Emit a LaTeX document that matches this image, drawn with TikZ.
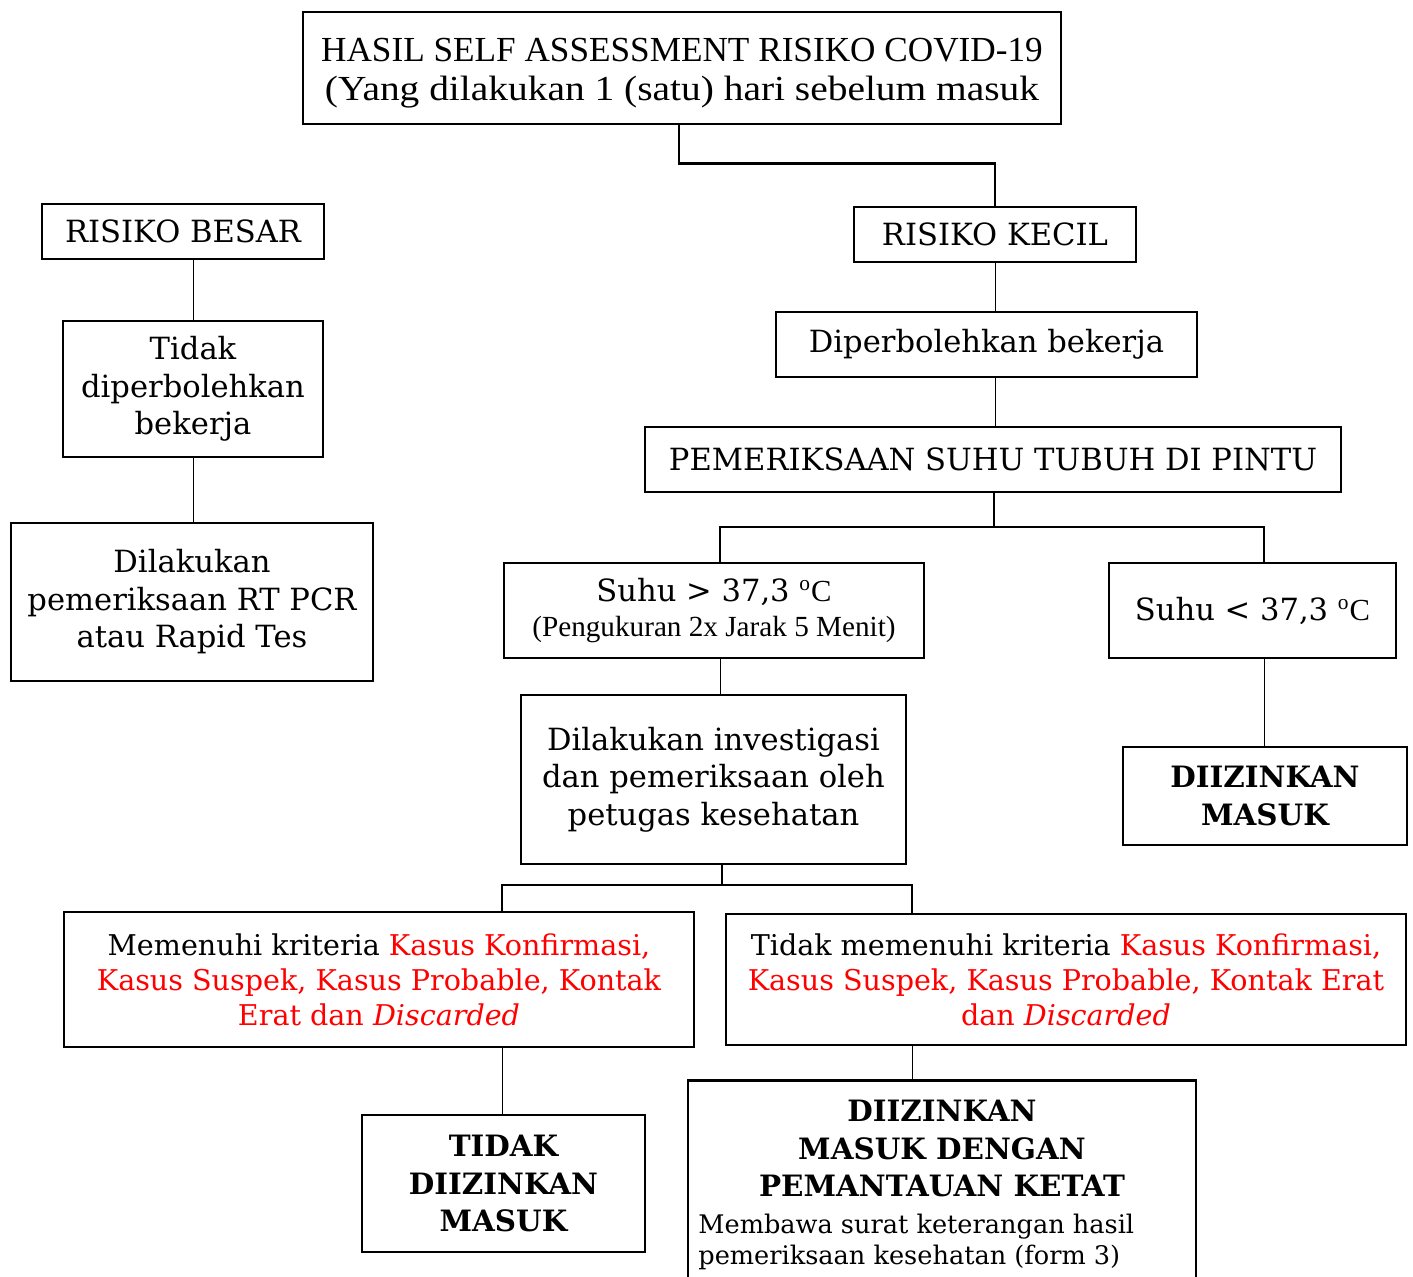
\documentclass[tikz,border=0pt]{standalone}
\usepackage{fontspec}
\usepackage{xcolor}
\usepackage{graphicx}
\setmainfont{DejaVu Serif}
\newfontfamily\tms{Liberation Serif}
\usetikzlibrary{calc}
\begin{document}
\begin{tikzpicture}[x=0.5pt,y=-0.5pt,
  box/.style={draw,line width=1.4pt,inner sep=0pt,align=center,font=\fontsize{15.3}{18.75}\selectfont},
  thickc/.style={line width=1.4pt},
  thinc/.style={line width=0.5pt},
  bld/.style={font=\fontsize{14.7}{18.75}\selectfont\bfseries,align=center}]
\useasboundingbox (0,0) rectangle (1413,1277);
\clip (0,0) rectangle (1413,1277);
% boxes
\node[box,minimum width=379pt,minimum height=56pt,font=\tms\fontsize{17.6}{19.5}\selectfont] (top) at (682,68)
  {\rule{0pt}{17pt}HASIL SELF ASSESSMENT RISIKO COVID-19\\\scalebox{1.12}[1]{(Yang dilakukan 1 (satu) hari sebelum masuk}};
\node[box,minimum width=141pt,minimum height=27.5pt] (rb) at (183,231.5) {RISIKO BESAR};
\node[box,minimum width=130pt,minimum height=68pt] (td) at (193,389) {Tidak\\diperbolehkan\\bekerja};
\node[box,minimum width=181pt,minimum height=79pt] (rt) at (192,602) {Dilakukan\\pemeriksaan RT PCR\\atau Rapid Tes};
\node[box,minimum width=141pt,minimum height=27.5pt] (rk) at (995,234.5) {RISIKO KECIL};
\node[box,minimum width=210.5pt,minimum height=32.5pt] (dp) at (986.5,344.5) {Diperbolehkan bekerja};
\node[box,minimum width=348pt,minimum height=32.5pt] (ps) at (993,459.5) {PEMERIKSAAN SUHU TUBUH DI PINTU};
\node[box,minimum width=210pt,minimum height=47.5pt] (s1) at (714,610.5)
  {Suhu > 37,3 {\tms\textsuperscript{o}C}\\[-1pt]{\tms\fontsize{14.6}{16}\selectfont (Pengukuran 2x Jarak 5 Menit)}};
\node[box,minimum width=143.5pt,minimum height=47.5pt] (s2) at (1252.5,610.5) {Suhu < 37,3 {\tms\textsuperscript{o}C}};
\node[box,minimum width=192.5pt,minimum height=84.5pt] (inv) at (713.5,779.5)
  {Dilakukan investigasi\\dan pemeriksaan oleh\\petugas kesehatan};
\node[box,minimum width=142pt,minimum height=49pt,font=\fontsize{14.7}{18.75}\selectfont\bfseries] (dm) at (1265,796) {DIIZINKAN\\MASUK};
\node[box,minimum width=315pt,minimum height=67.5pt,font=\fontsize{14.3}{17.5}\selectfont] (m1) at (379,979.5)
  {Memenuhi kriteria \textcolor{red}{Kasus Konfirmasi,}\\\textcolor{red}{Kasus Suspek, Kasus Probable, Kontak}\\\textcolor{red}{Erat dan \textit{Discarded}}};
\node[box,minimum width=340pt,minimum height=65.5pt,font=\fontsize{14.3}{17.5}\selectfont] (m2) at (1066,979.5)
  {Tidak memenuhi kriteria \textcolor{red}{Kasus Konfirmasi,}\\\textcolor{red}{Kasus Suspek, Kasus Probable, Kontak Erat}\\\textcolor{red}{dan \textit{Discarded}}};
\node[box,minimum width=141.5pt,minimum height=68.5pt,font=\fontsize{14.7}{18.75}\selectfont\bfseries] (tdm) at (503.5,1183.5) {TIDAK\\DIIZINKAN\\MASUK};
\node[box,anchor=north,minimum width=254pt,minimum height=120pt] (dd) at (942,1079) {};
\node[bld,anchor=north,inner sep=0pt] (ddt) at (942,1100) {DIIZINKAN\\MASUK DENGAN\\PEMANTAUAN KETAT};
\node[anchor=north west,inner sep=0pt,align=left,font=\fontsize{12.8}{15.5}\selectfont] (ddn) at (698,1214)
  {Membawa surat keterangan hasil\\pemeriksaan kesehatan (form 3)};
% connectors
\draw[thickc] (top.south -| 679,0) -- ++(0,38) -| (rk.north);
\draw[thinc] (td.north |- rb.south) -- (td.north);
\draw[thinc] (td.south) -- (td.south |- rt.north);
\draw[thinc] (rk.south) -- (rk.south |- dp.north);
\draw[thinc] (rk.south |- dp.south) -- (rk.south |- ps.north);
\coordinate (b1) at (720,527);
\coordinate (b2) at (1264,527);
\draw[thickc] (ps.south -| 994,0) -- (b1 -| 994,0);
\draw[thickc] (s1.north -| b1) -- (b1) -- (b2) -- (s2.north -| b2);
\draw[thinc] (s1.south -| b1) -- (inv.north -| b1);
\draw[thinc] (s2.south -| b2) -- (dm.north -| b2);
\coordinate (j2) at (722,885);
\coordinate (c1) at (502,885);
\coordinate (c2) at (912,885);
\draw[thickc] (inv.south -| j2) -- (j2);
\draw[thickc] (m1.north -| c1) -- (c1) -- (c2) -- (m2.north -| c2);
\draw[thinc] (m1.south -| c1) -- (tdm.north -| c1);
\draw[thinc] (m2.south -| c2) -- (dd.north -| c2);
\end{tikzpicture}
\end{document}
